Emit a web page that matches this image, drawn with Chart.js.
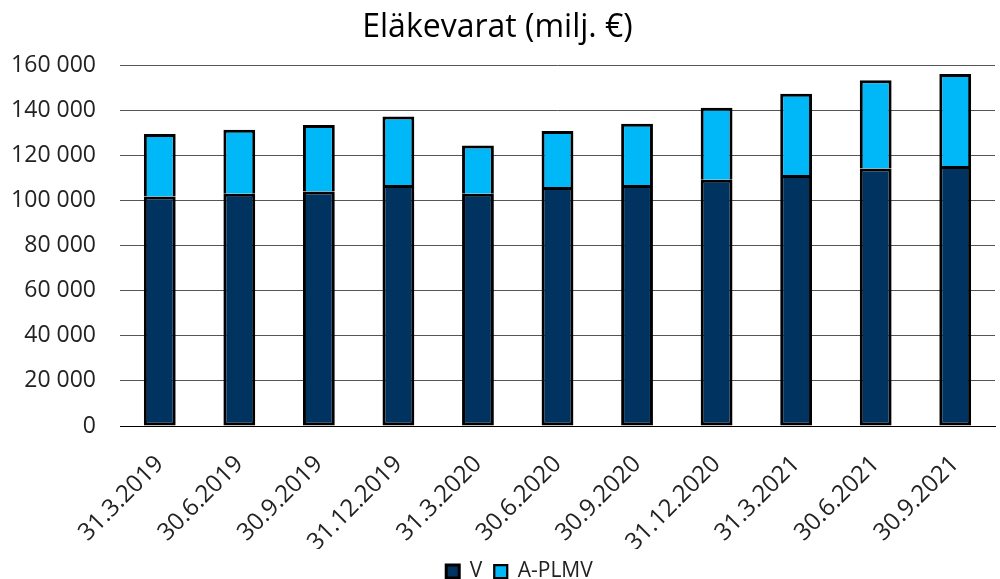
<!DOCTYPE html>
<html>
<head>
<meta charset="utf-8">
<script src="https://cdn.jsdelivr.net/npm/chart.js@4/dist/chart.umd.min.js"></script>
<style>
  html, body { margin: 0; padding: 0; background: #fff; }
  #wrap { width: 1000px; height: 579px; }
</style>
</head>
<body>
<div id="wrap"><canvas id="c" width="1000" height="579"></canvas></div>
<script>
const categories = ["31.3.2019","30.6.2019","30.9.2019","31.12.2019","31.3.2020","30.6.2020","30.9.2020","31.12.2020","31.3.2021","30.6.2021","30.9.2021"];
const seriesV = [101800, 103000, 104100, 106900, 103000, 106000, 106900, 109300, 111400, 114300, 115400];
const seriesAPLMV = [27800, 28400, 29400, 30400, 21500, 24900, 27200, 31900, 36000, 39100, 40800];
const yTicks = [0, 20000, 40000, 60000, 80000, 100000, 120000, 140000, 160000];

const FONT = "'Open Sans', 'Noto Sans', sans-serif";
const fmt = v => String(v).replace(/\B(?=(\d{3})+(?!\d))/g, " ");

const legendShift = {
  id: 'legendShift',
  afterLayout(chart) {
    const lg = chart.legend;
    if (!lg) return;
    const d = 22;
    lg.left += d; lg.right += d;
    (lg.legendHitBoxes || []).forEach(h => { h.left += d; });
  }
};

new Chart(document.getElementById('c'), {
  type: 'bar',
  data: {
    labels: categories,
    datasets: [
      { label: 'V', data: seriesV, backgroundColor: '#00335F', borderColor: '#000',
        borderWidth: { left: 3, right: 3, top: 3, bottom: 3 }, borderSkipped: false, inflateAmount: 0,
        barPercentage: 0.4, categoryPercentage: 1.0 },
      { label: 'A-PLMV', data: seriesAPLMV, backgroundColor: '#00B7F7', borderColor: '#000',
        borderWidth: { left: 3, right: 3, top: 3, bottom: 0 }, borderSkipped: false, inflateAmount: 0,
        barPercentage: 0.4, categoryPercentage: 1.0 }
    ]
  },
  plugins: [legendShift],
  options: {
    responsive: false,
    animation: false,
    devicePixelRatio: 1,
    layout: { padding: { left: 0, right: 5, top: 6, bottom: 0 } },
    plugins: {
      title: {
        display: true,
        text: 'Eläkevarat (milj. €)',
        color: '#000',
        font: { family: FONT, size: 32, weight: 'normal' },
        padding: { top: 3, bottom: 18 }
      },
      legend: {
        position: 'bottom',
        maxHeight: 30,
        labels: {
          color: '#222',
          font: { family: FONT, size: 21 },
          boxWidth: 13,
          boxHeight: 13,
          padding: 12
        }
      },
      tooltip: { enabled: false }
    },
    scales: {
      x: {
        stacked: true,
        grid: { display: false },
        border: { display: true, color: '#000', width: 1 },
        ticks: { color: '#222', font: { family: FONT, size: 24 }, maxRotation: 45, minRotation: 45, padding: 16 },
        afterFit: s => { s.height = 123; }
      },
      y: {
        stacked: true,
        min: 0, max: 160000,
        afterBuildTicks: s => { s.ticks = yTicks.map(v => ({ value: v })); },
        grid: { color: '#555', lineWidth: 1, drawTicks: false },
        border: { display: false },
        ticks: { color: '#222', font: { family: FONT, size: 23 }, padding: 24, callback: v => fmt(v) },
        afterFit: s => { s.width = 120; }
      }
    }
  }
});
</script>
</body>
</html>
